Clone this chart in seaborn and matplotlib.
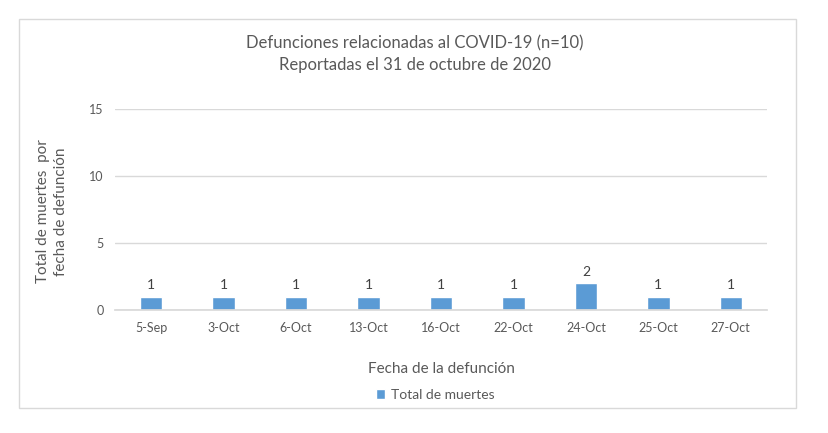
import matplotlib
matplotlib.use("Agg")
import matplotlib.pyplot as plt
import seaborn as sns
import pandas as pd
from matplotlib.patches import Rectangle, Patch

fechas = ["5-Sep", "3-Oct", "6-Oct", "13-Oct", "16-Oct", "22-Oct", "24-Oct", "25-Oct", "27-Oct"]
muertes = [1, 1, 1, 1, 1, 1, 2, 1, 1]
yticks = [0, 5, 10, 15]

sns.set_theme(style="white")
plt.rcParams['font.family'] = ['Lato', 'DejaVu Sans']

df = pd.DataFrame({"fecha": fechas, "muertes": muertes})

W, H = 829, 433
fig = plt.figure(figsize=(W / 100, H / 100), dpi=100)
fig.patch.set_facecolor("white")
# frame around chart area
fig.add_artist(Rectangle((19 / W, 1 - 408 / H), (796 - 19) / W, (408 - 19) / H,
                         transform=fig.transFigure, fill=False, edgecolor="#D9D9D9", lw=1))

ax = fig.add_axes([115 / W, 1 - 310 / H, (767 - 115) / W, (310 - 109) / H])
bar_color = "#5B9BD5"
sns.barplot(data=df, x="fecha", y="muertes", color=bar_color, width=0.31, ax=ax,
            saturation=1)
ax.set_ylim(0, 15)
ax.set_yticks(yticks)
ax.set_xlim(-0.5, len(fechas) - 0.5)
ax.grid(axis="y", color="#D9D9D9", lw=1)
ax.set_axisbelow(True)
for s in ["top", "right", "left"]:
    ax.spines[s].set_visible(False)
ax.spines["bottom"].set_color("#D9D9D9")
ax.tick_params(axis="both", length=0, colors="#595959", labelsize=9)
ax.tick_params(axis="x", pad=9)
ax.tick_params(axis="y", pad=8)
for c in ax.containers:
    ax.bar_label(c, labels=[str(v) for v in muertes], padding=4, fontsize=10, color="#404040")

ax.set_xlabel("Fecha de la defunción", fontsize=11, color="#595959", labelpad=20)
ax.set_ylabel("Total de muertes  por\nfecha de defunción", fontsize=11, color="#595959",
              linespacing=1.3)
ax.yaxis.set_label_coords((52 - 115) / (767 - 115), 0.49)
ax.yaxis.label.set_va("center")

fig.text(415 / W, 1 - 54 / H, "Defunciones relacionadas al COVID-19 (n=10)\nReportadas el 31 de octubre de 2020",
         ha="center", va="center", fontsize=12, color="#595959", linespacing=1.45)

fig.legend(handles=[Patch(facecolor=bar_color, label="Total de muertes")],
           loc="center", bbox_to_anchor=(435 / W, 1 - 395 / H), frameon=False,
           fontsize=10, handlelength=0.7, handleheight=0.7, handletextpad=0.4,
           labelcolor="#595959")

fig.savefig("out.png", dpi=100, facecolor="white")
